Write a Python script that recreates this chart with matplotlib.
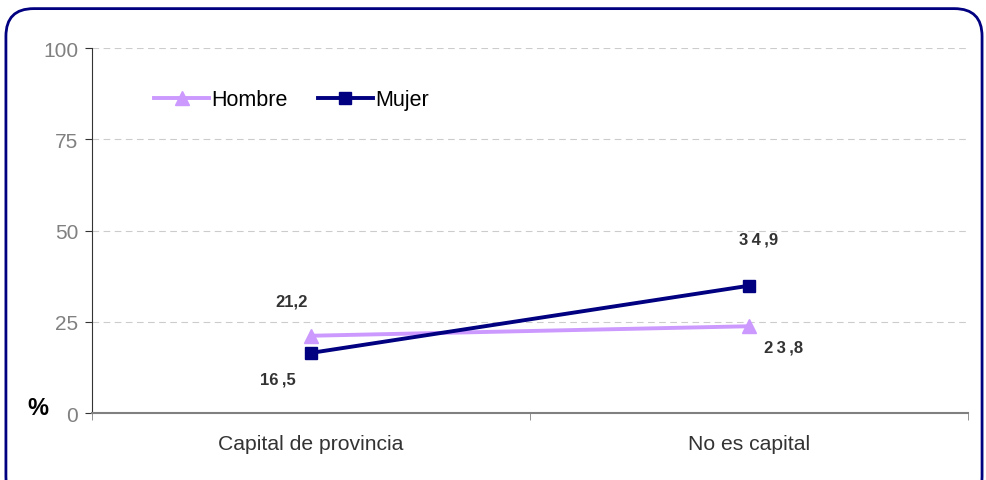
import matplotlib.pyplot as plt
from matplotlib.patches import FancyBboxPatch

plt.rcParams['font.family'] = ['Liberation Sans', 'DejaVu Sans']

categories = ["Capital de provincia", "No es capital"]
hombre = [21.2, 23.8]
mujer = [16.5, 34.9]
hombre_labels = ["21,2", "2\u20093\u2009,8"]
mujer_labels = ["16\u2009,5", "3\u20094\u2009,9"]
yticks = [0, 25, 50, 75, 100]

fig = plt.figure(figsize=(9.86, 4.81), dpi=100)
ax = fig.add_axes([0.0933, 0.139, 0.8884, 0.759])

x = list(range(len(categories)))
ax.plot(x, hombre, color="#CC99FF", lw=2.8, marker="^", ms=9.5, label="Hombre")
ax.plot(x, mujer, color="#000080", lw=2.8, marker="s", ms=8, label="Mujer")

# data labels
h_off = [(-14, 25), (25, -15)]
m_off = [(-24, -19), (7, 34)]
for i in x:
    ax.annotate(hombre_labels[i], (i, hombre[i]), xytext=h_off[i], textcoords="offset points",
                ha="center", va="center", fontsize=12, fontweight="bold", color="#333333")
    ax.annotate(mujer_labels[i], (i, mujer[i]), xytext=m_off[i], textcoords="offset points",
                ha="center", va="center", fontsize=12, fontweight="bold", color="#333333")

ax.set_xlim(-0.5, 1.5)
ax.set_ylim(0, 100)
ax.set_yticks(yticks)
ax.set_xticks(x)
ax.set_xticklabels(categories, fontsize=15.2, color="#333333")
ax.set_xticks([-0.5, 0.5, 1.5], minor=True)
ax.tick_params(axis="x", which="major", length=0, pad=15)
ax.tick_params(axis="x", which="minor", length=5, direction="out", color="#808080")
ax.tick_params(axis="y", labelsize=15, labelcolor="#808080", length=5, color="#333333", pad=5)
for v in yticks[1:]:
    ax.axhline(v, color="#CCCCCC", lw=0.8, ls=(0, (6, 4)), zorder=0)

for s in ["top", "right"]:
    ax.spines[s].set_visible(False)
ax.spines["bottom"].set_color("#808080")
ax.spines["bottom"].set_linewidth(1.5)
ax.spines["left"].set_color("#333333")

fig.text(0.038, 0.15, "%", fontsize=17, fontweight="bold", ha="center", va="center")

ax.legend(loc="upper left", bbox_to_anchor=(0.059, 0.916), ncol=2, frameon=False,
          fontsize=15.5, handlelength=2.55, handletextpad=0.1, columnspacing=1.4, borderpad=0)

border = FancyBboxPatch((0.006, -0.05), 0.99, 1.03, boxstyle="round,pad=0,rounding_size=0.028",
                        transform=fig.transFigure, fill=False, ec="#000080", lw=2,
                        mutation_aspect=2.05)
fig.patches.append(border)

fig.savefig("out.png", dpi=100)
